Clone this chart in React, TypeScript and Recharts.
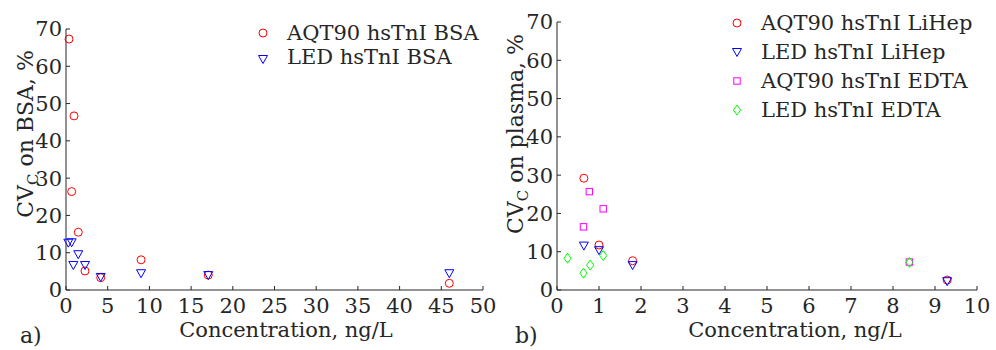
import { Label, Scatter, ScatterChart, XAxis, YAxis } from "recharts";

// panel a) BSA
const aqtBsaConc = [0.36, 0.68, 0.96, 1.47, 2.28, 4.16, 9.0, 17.06, 45.96];
const aqtBsaCv = [67.3, 26.4, 46.7, 15.5, 5.1, 3.3, 8.1, 4.0, 1.8];
const ledBsaConc = [0.28, 0.68, 0.88, 1.47, 2.28, 4.16, 9.0, 17.06, 45.96];
const ledBsaCv = [12.7, 12.8, 6.7, 9.6, 6.7, 3.5, 4.5, 4.0, 4.5];

// panel b) plasma
const aqtLiHepConc = [0.64, 1.0, 1.8, 9.29];
const aqtLiHepCv = [29.2, 11.75, 7.65, 2.6];
const ledLiHepConc = [0.64, 1.0, 1.8, 9.29];
const ledLiHepCv = [11.6, 10.4, 6.5, 2.3];
const aqtEdtaConc = [0.63, 0.77, 1.1, 8.39];
const aqtEdtaCv = [16.5, 25.7, 21.2, 7.3];
const ledEdtaConc = [0.25, 0.63, 0.79, 1.1, 8.39];
const ledEdtaCv = [8.3, 4.4, 6.5, 9.0, 7.2];

const bsaTicks = [0, 5, 10, 15, 20, 25, 30, 35, 40, 45, 50];
const plasmaTicks = [0, 1, 2, 3, 4, 5, 6, 7, 8, 9, 10];
const cvTicks = [0, 10, 20, 30, 40, 50, 60, 70];

const bsaLegend = ["AQT90 hsTnI BSA", "LED hsTnI BSA"];
const plasmaLegend = ["AQT90 hsTnI LiHep", "LED hsTnI LiHep", "AQT90 hsTnI EDTA", "LED hsTnI EDTA"];

const INK = "#262626";
const FONT = '"DejaVu Serif", serif';
const RED = "#ff0000";
const BLUE = "#0000ff";
const MAGENTA = "#ff00ff";
const GREEN = "#00ff00";

const toPoints = (xs: number[], ys: number[]) => xs.map((x, i) => ({ x, y: ys[i] }));

type Marker = "circle" | "triangle" | "square" | "diamond";

function drawMarker(kind: Marker, color: string, cx: number, cy: number) {
  const common = { fill: "none", stroke: color, strokeWidth: 1 };
  if (kind === "circle") return <circle cx={cx} cy={cy} r={4} {...common} />;
  if (kind === "triangle")
    return <polygon points={`${cx - 4.5},${cy - 3.5} ${cx + 4.5},${cy - 3.5} ${cx},${cy + 4.5}`} {...common} />;
  if (kind === "square") return <rect x={cx - 3.2} y={cy - 3.2} width={6.4} height={6.4} {...common} />;
  return <polygon points={`${cx},${cy - 5} ${cx + 3.6},${cy} ${cx},${cy + 5} ${cx - 3.6},${cy}`} {...common} />;
}

const shape = (kind: Marker, color: string) => (props: any) => drawMarker(kind, color, props.cx, props.cy);

const XTick = (props: any) => (
  <text x={props.x} y={props.y} dy="0.71em" textAnchor="middle" fill={INK} fontFamily={FONT} fontSize={21}>
    {props.payload.value}
  </text>
);

const YTick = (props: any) => (
  <text x={props.x} y={props.y} dy="0.355em" textAnchor="end" fill={INK} fontFamily={FONT} fontSize={21}>
    {props.payload.value}
  </text>
);

const xAxisStyle = {
  type: "number" as const,
  dataKey: "x",
  height: 30,
  interval: 0 as const,
  axisLine: { stroke: INK },
  tickLine: { stroke: INK },
  tickSize: -4,
  tickMargin: 12,
  tick: <XTick />,
};

const yAxisStyle = {
  type: "number" as const,
  dataKey: "y",
  domain: [0, 70],
  ticks: cvTicks,
  interval: 0 as const,
  axisLine: { stroke: INK },
  tickLine: { stroke: INK },
  tickSize: -4,
  tickMargin: 8,
  tick: <YTick />,
};

function xTitle(cx: number, panel: string, px: number) {
  return () => (
    <g fill={INK} fontFamily={FONT}>
      <text x={cx} y={337} textAnchor="middle" fontSize={21}>
        Concentration, ng/L
      </text>
      <text x={px} y={343} fontSize={22}>
        {panel}
      </text>
    </g>
  );
}

function yTitle(rest: string) {
  return () => (
    <text transform="translate(33,134) rotate(-90)" textAnchor="middle" fill={INK} fontFamily={FONT} fontSize={22}>
      CV
      <tspan fontSize={15} dy={5}>
        C
      </tspan>
      <tspan dy={-5}>{rest}</tspan>
    </text>
  );
}

function LegendBox({
  left,
  items,
  markers,
  colors,
  markerX,
  rows,
}: {
  left: number;
  items: string[];
  markers: Marker[];
  colors: string[];
  markerX: number;
  rows: { marker: number; base: number }[];
}) {
  return (
    <svg
      width={996 - left}
      height={140}
      style={{ position: "absolute", left, top: 0, pointerEvents: "none" }}
    >
      {items.map((label, i) => (
        <g key={label}>
          {drawMarker(markers[i], colors[i], markerX - left, rows[i].marker)}
          <text x={markerX - left + 24} y={rows[i].base} fill={INK} fontFamily={FONT} fontSize={21}>
            {label}
          </text>
        </g>
      ))}
    </svg>
  );
}

export default function App() {
  return (
    <div
      style={{
        position: "absolute",
        left: 0,
        top: 0,
        width: 996,
        height: 350,
        background: "#fff",
        overflow: "hidden",
      }}
    >
      <div style={{ position: "absolute", left: 0, top: 0 }}>
        <ScatterChart width={500} height={350} margin={{ top: 29, right: 17, bottom: 30, left: 0 }}>
          <XAxis {...xAxisStyle} domain={[0, 50]} ticks={bsaTicks}>
            <Label content={xTitle(286, "a)", 20)} />
          </XAxis>
          <YAxis {...yAxisStyle} width={66}>
            <Label content={yTitle(" on BSA, %")} />
          </YAxis>
          <Scatter
            data={toPoints(aqtBsaConc, aqtBsaCv)}
            shape={shape("circle", RED)}
            isAnimationActive={false}
          />
          <Scatter
            data={toPoints(ledBsaConc, ledBsaCv)}
            shape={shape("triangle", BLUE)}
            isAnimationActive={false}
          />
        </ScatterChart>
      </div>
      <div style={{ position: "absolute", left: 490, top: 0 }}>
        <ScatterChart width={506} height={350} margin={{ top: 22, right: 19, bottom: 30, left: 0 }}>
          <XAxis {...xAxisStyle} domain={[0, 10]} ticks={plasmaTicks}>
            <Label content={xTitle(305, "b)", 25)} />
          </XAxis>
          <YAxis {...yAxisStyle} width={67}>
            <Label content={yTitle(" on plasma, %")} />
          </YAxis>
          <Scatter
            data={toPoints(aqtLiHepConc, aqtLiHepCv)}
            shape={shape("circle", RED)}
            isAnimationActive={false}
          />
          <Scatter
            data={toPoints(ledLiHepConc, ledLiHepCv)}
            shape={shape("triangle", BLUE)}
            isAnimationActive={false}
          />
          <Scatter
            data={toPoints(aqtEdtaConc, aqtEdtaCv)}
            shape={shape("square", MAGENTA)}
            isAnimationActive={false}
          />
          <Scatter
            data={toPoints(ledEdtaConc, ledEdtaCv)}
            shape={shape("diamond", GREEN)}
            isAnimationActive={false}
          />
        </ScatterChart>
      </div>
      <LegendBox
        left={240}
        items={bsaLegend}
        markers={["circle", "triangle"]}
        colors={[RED, BLUE]}
        markerX={263}
        rows={[
          { marker: 33, base: 40 },
          { marker: 59, base: 64 },
        ]}
      />
      <LegendBox
        left={720}
        items={plasmaLegend}
        markers={["circle", "triangle", "square", "diamond"]}
        colors={[RED, BLUE, MAGENTA, GREEN]}
        markerX={737}
        rows={[
          { marker: 23, base: 30 },
          { marker: 52, base: 59 },
          { marker: 81, base: 88 },
          { marker: 110, base: 117 },
        ]}
      />
    </div>
  );
}
